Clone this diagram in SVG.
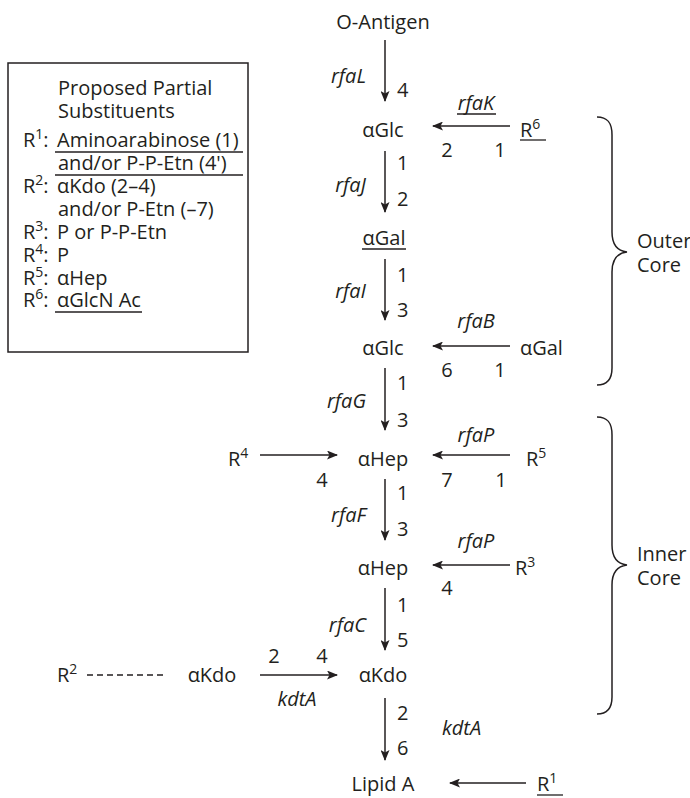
<svg xmlns="http://www.w3.org/2000/svg" width="690" height="798" viewBox="0 0 690 798">
<style>
.t{font-family:"Open Sans","Liberation Sans","DejaVu Sans",sans-serif;font-size:20px;fill:#231f20}
.m{text-anchor:middle}
.i{font-style:italic}
.s{font-size:14px}
.ln{stroke:#231f20;stroke-width:1.5;fill:none}
.ar{stroke:#231f20;stroke-width:1.5;fill:none;marker-end:url(#ah)}
.ul{stroke:#231f20;stroke-width:1.3}
</style>
<defs>
<marker id="ah" viewBox="0 0 11 9" refX="10" refY="4.5" markerWidth="11" markerHeight="9" markerUnits="userSpaceOnUse" orient="auto">
<path d="M0,0 L11,4.5 L0,9 L2.5,4.5 z" fill="#231f20"/>
</marker>
</defs>
<rect width="690" height="798" fill="#fff"/>

<g id="legend">
<rect x="8" y="63" width="240" height="289" class="ln"/>
<text class="t" x="58" y="95">Proposed Partial</text>
<text class="t" x="58" y="118">Substituents</text>
<text class="t" x="23" y="147">R<tspan class="s" dy="-8">1</tspan><tspan dy="8">:</tspan></text>
<text class="t" x="57" y="147">Aminoarabinose (1)</text>
<line class="ul" x1="55" y1="152" x2="243" y2="152"/>
<text class="t" x="58" y="170">and/or P-P-Etn (4')</text>
<line class="ul" x1="55" y1="175" x2="243" y2="175"/>
<text class="t" x="23" y="193">R<tspan class="s" dy="-8">2</tspan><tspan dy="8">:</tspan></text>
<text class="t" x="57" y="193">αKdo (2–4)</text>
<text class="t" x="58" y="216">and/or P-Etn (–7)</text>
<text class="t" x="23" y="239">R<tspan class="s" dy="-8">3</tspan><tspan dy="8">:</tspan></text>
<text class="t" x="57" y="239">P or P-P-Etn</text>
<text class="t" x="23" y="262">R<tspan class="s" dy="-8">4</tspan><tspan dy="8">:</tspan></text>
<text class="t" x="57" y="262">P</text>
<text class="t" x="23" y="285">R<tspan class="s" dy="-8">5</tspan><tspan dy="8">:</tspan></text>
<text class="t" x="57" y="285">αHep</text>
<text class="t" x="23" y="307">R<tspan class="s" dy="-8">6</tspan><tspan dy="8">:</tspan></text>
<text class="t" x="57" y="307">αGlcN Ac</text>
<line class="ul" x1="55" y1="312" x2="142" y2="312"/>
</g>

<g id="n-oantigen"><text class="t m" x="383" y="29">O-Antigen</text></g>
<g id="n-glc1"><text class="t m" x="383" y="137">αGlc</text></g>
<g id="n-gal"><text class="t m" x="384" y="245">αGal</text><line class="ul" x1="362" y1="249" x2="406" y2="249"/></g>
<g id="n-glc2"><text class="t m" x="383" y="355">αGlc</text></g>
<g id="n-hep1"><text class="t m" x="383" y="466">αHep</text></g>
<g id="n-hep2"><text class="t m" x="383" y="575">αHep</text></g>
<g id="n-kdo1"><text class="t m" x="383" y="682">αKdo</text></g>
<g id="n-lipidA"><text class="t m" x="383" y="791">Lipid A</text></g>
<g id="n-kdo2"><text class="t m" x="212" y="682">αKdo</text></g>
<g id="n-r6"><text class="t" x="520" y="137">R<tspan class="s" dy="-8">6</tspan></text><line class="ul" x1="520" y1="140" x2="546" y2="140"/></g>
<g id="n-gal2"><text class="t" x="520" y="355">αGal</text></g>
<g id="n-r5"><text class="t" x="526" y="466">R<tspan class="s" dy="-8">5</tspan></text></g>
<g id="n-r4"><text class="t" x="228" y="466">R<tspan class="s" dy="-8">4</tspan></text></g>
<g id="n-r3"><text class="t" x="515" y="575">R<tspan class="s" dy="-8">3</tspan></text></g>
<g id="n-r2"><text class="t" x="57" y="682">R<tspan class="s" dy="-8">2</tspan></text></g>
<g id="n-r1"><text class="t" x="537" y="791">R<tspan class="s" dy="-8">1</tspan></text><line class="ul" x1="537" y1="795" x2="563" y2="795"/></g>

<g id="outer-core">
<path class="ln" d="M597,117 C607,117 612,122 612,135 L612,232 C612,245 618,251 627,252 C618,253 612,259 612,272 L612,368 C612,380 607,385 597,385"/>
<text class="t" x="637" y="248">Outer</text>
<text class="t" x="637" y="272">Core</text>
</g>
<g id="inner-core">
<path class="ln" d="M597,417 C607,417 612,422 612,435 L612,545 C612,558 618,564 627,565 C618,566 612,572 612,585 L612,697 C612,709 607,714 597,714"/>
<text class="t" x="637" y="561">Inner</text>
<text class="t" x="637" y="585">Core</text>
</g>

<g id="connectors">
<line class="ar" x1="385" y1="40" x2="385" y2="101"/>
<line class="ar" x1="385" y1="151" x2="385" y2="212"/>
<line class="ar" x1="385" y1="259" x2="385" y2="320"/>
<line class="ar" x1="385" y1="368" x2="385" y2="430"/>
<line class="ar" x1="385" y1="479" x2="385" y2="540"/>
<line class="ar" x1="385" y1="588" x2="385" y2="650"/>
<line class="ar" x1="385" y1="698" x2="385" y2="760"/>
<line class="ar" x1="510" y1="126" x2="433" y2="126"/>
<line class="ar" x1="510" y1="346" x2="433" y2="346"/>
<line class="ar" x1="510" y1="455" x2="433" y2="455"/>
<line class="ar" x1="260" y1="455" x2="337" y2="455"/>
<line class="ar" x1="510" y1="565" x2="433" y2="565"/>
<line class="ar" x1="260" y1="675" x2="337" y2="675"/>
<line class="ar" x1="526" y1="783" x2="450" y2="783"/>
<line class="ln" x1="87" y1="675" x2="165" y2="675" stroke-dasharray="6,4"/>

<text class="t i" x="366" y="83" text-anchor="end">rfaL</text>
<text class="t" x="397" y="97">4</text>
<text class="t i" x="476" y="110" text-anchor="middle">rfaK</text>
<line class="ul" x1="457" y1="114" x2="496" y2="114"/>
<text class="t m" x="447" y="157">2</text>
<text class="t m" x="500" y="157">1</text>
<text class="t i" x="366" y="192" text-anchor="end">rfaJ</text>
<text class="t" x="397" y="170">1</text>
<text class="t" x="397" y="206">2</text>
<text class="t i" x="366" y="298" text-anchor="end">rfaI</text>
<text class="t" x="397" y="282">1</text>
<text class="t" x="397" y="317">3</text>
<text class="t i" x="476" y="328" text-anchor="middle">rfaB</text>
<text class="t m" x="447" y="377">6</text>
<text class="t m" x="500" y="377">1</text>
<text class="t i" x="366" y="408" text-anchor="end">rfaG</text>
<text class="t" x="397" y="390">1</text>
<text class="t" x="397" y="427">3</text>
<text class="t i" x="476" y="442" text-anchor="middle">rfaP</text>
<text class="t m" x="322" y="487">4</text>
<text class="t m" x="447" y="487">7</text>
<text class="t m" x="501" y="487">1</text>
<text class="t i" x="366" y="522" text-anchor="end">rfaF</text>
<text class="t" x="397" y="500">1</text>
<text class="t" x="397" y="536">3</text>
<text class="t i" x="476" y="548" text-anchor="middle">rfaP</text>
<text class="t m" x="447" y="595">4</text>
<text class="t i" x="366" y="632" text-anchor="end">rfaC</text>
<text class="t" x="397" y="612">1</text>
<text class="t" x="397" y="647">5</text>
<text class="t m" x="274" y="663">2</text>
<text class="t m" x="322" y="663">4</text>
<text class="t i" x="297" y="706" text-anchor="middle">kdtA</text>
<text class="t" x="397" y="720">2</text>
<text class="t" x="397" y="755">6</text>
<text class="t i" x="442" y="735">kdtA</text>
</g>
</svg>
